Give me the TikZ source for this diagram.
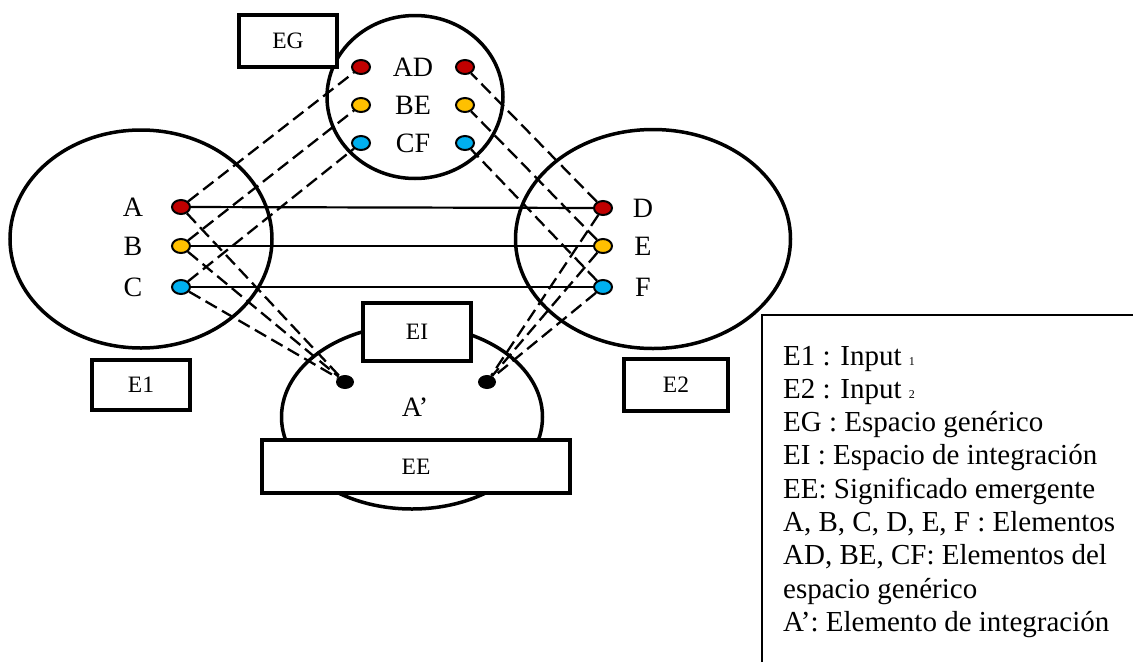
\documentclass[tikz,border=0pt]{standalone}
\usepackage{fontspec}
\setmainfont{Liberation Serif}
\usetikzlibrary{shapes.geometric}
\definecolor{dred}{HTML}{C00000}
\definecolor{dyel}{HTML}{FFC000}
\definecolor{dblue}{HTML}{00B0F0}
\begin{document}
\begin{tikzpicture}[x=1pt,y=-1pt,
 space/.style={draw, ellipse, line width=3.5pt, inner sep=0pt},
 lab/.style={font=\fontsize{28}{28}\selectfont, inner sep=0pt},
 boxlab/.style={draw, line width=3.5pt, fill=white, font=\fontsize{23.5}{23.5}\selectfont, inner sep=0pt},
 pt/.style={draw, ellipse, line width=2pt, minimum width=18pt, minimum height=14pt, inner sep=0pt},
 bdot/.style={fill=black, ellipse, minimum width=18pt, minimum height=14pt, inner sep=0pt},
 link/.style={line width=2.3pt, dash pattern=on 13pt off 6pt},
 maplink/.style={line width=2.2pt},
 leg/.style={anchor=base west, font=\fontsize{29}{29}\selectfont, inner sep=0pt}]
\useasboundingbox (0,0) rectangle (1133,662);

% spaces
\node[space, minimum width=262pt, minimum height=218pt] (S1) at (141,239) {};
\node[space, minimum width=275pt, minimum height=219pt] (S2) at (653,239) {};
\node[space, minimum width=176pt, minimum height=163pt] (SG) at (415,97) {};
\node[space, minimum width=261pt, minimum height=184pt] (SI) at (412,417) {};

% boxes
\node[boxlab, minimum width=98pt, minimum height=52pt] (bEG) at (288,41) {EG};
\node[boxlab, minimum width=98pt, minimum height=50pt] (bE1) at (141,385) {E1};
\node[boxlab, minimum width=104pt, minimum height=52pt] (bE2) at (676,385) {E2};
\node[boxlab, minimum width=108pt, minimum height=58pt] (bEI) at (417,332) {EI};
\node[boxlab, minimum width=308pt, minimum height=53pt] (bEE) at (416,466.5) {EE};

% labels
\node[lab] (tA) at (133,207) {A};
\node[lab] (tB) at (133,246) {B};
\node[lab] (tC) at (133,287) {C};
\node[lab] (tD) at (643,208) {D};
\node[lab] (tE) at (643,246) {E};
\node[lab] (tF) at (643,287) {F};
\node[lab] (tAD) at (413,67) {AD};
\node[lab] (tBE) at (413,105) {BE};
\node[lab] (tCF) at (413,143) {CF};
\node[lab] (tAp) at (415,407) {A’};

% points
\node[pt, fill=dred]  (A) at (181,207) {};
\node[pt, fill=dyel]  (B) at (181,246) {};
\node[pt, fill=dblue] (C) at (181,287) {};
\node[pt, fill=dred]  (D) at (603,208) {};
\node[pt, fill=dyel]  (E) at (603,246) {};
\node[pt, fill=dblue] (F) at (603,287) {};
\node[pt, fill=dred]  (ADl) at (361,67) {};
\node[pt, fill=dyel]  (BEl) at (361,105) {};
\node[pt, fill=dblue] (CFl) at (361,143) {};
\node[pt, fill=dred]  (ADr) at (465,67) {};
\node[pt, fill=dyel]  (BEr) at (465,105) {};
\node[pt, fill=dblue] (CFr) at (465,143) {};
\node[bdot] (Il) at (345,382) {};
\node[bdot] (Ir) at (487,382) {};

% mappings
\draw[maplink] (A) -- (D);
\draw[maplink] (B) -- (E);
\draw[maplink] (C) -- (F);

\draw[link] (A) -- (ADl);
\draw[link] (B) -- (BEl);
\draw[link] (C) -- (CFl);
\draw[link] (D) -- (ADr);
\draw[link] (E) -- (BEr);
\draw[link] (F) -- (CFr);

\draw[link] (A) -- (Il);
\draw[link] (B) -- (Il);
\draw[link] (C) -- (Il);
\draw[link] (D) -- (Ir);
\draw[link] (E) -- (Ir);
\draw[link] (F) -- (Ir);

% legend
\draw[line width=2.5pt] (762,662) -- (762,315) -- (1133,315);
\node[leg] (L1) at (783,365) {E1 : Input {\fontsize{12}{12}\selectfont 1}};
\node[leg] (L2) at (783,398.3) {E2 : Input {\fontsize{12}{12}\selectfont 2}};
\node[leg] (L3) at (783,431.6) {EG : Espacio genérico};
\node[leg] (L4) at (783,464.9) {EI : Espacio de integración};
\node[leg] (L5) at (783,498.2) {EE: Significado emergente};
\node[leg] (L6) at (783,531.5) {A, B, C, D, E, F : Elementos};
\node[leg] (L7) at (783,564.8) {AD, BE, CF: Elementos del};
\node[leg] (L8) at (783,598.1) {espacio genérico};
\node[leg] (L9) at (783,631.4) {A’: Elemento de integración};
\end{tikzpicture}
\end{document}
